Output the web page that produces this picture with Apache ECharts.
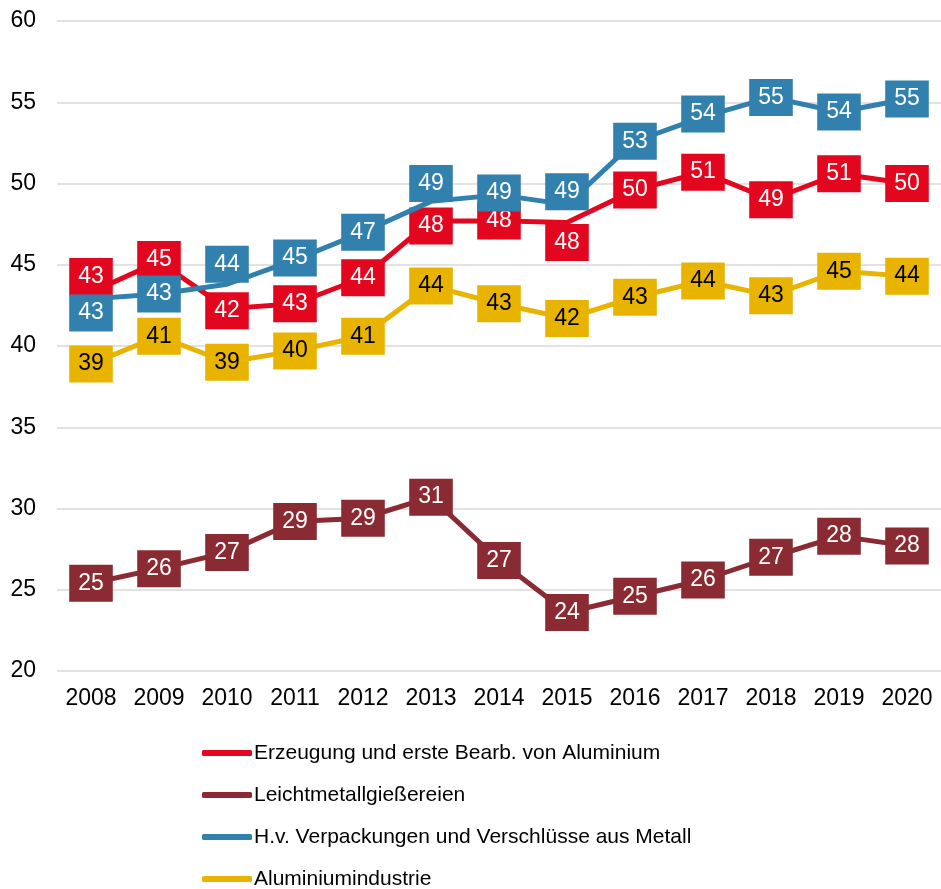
<!DOCTYPE html>
<html>
<head>
<meta charset="utf-8">
<script src="https://cdn.jsdelivr.net/npm/echarts@6/dist/echarts.min.js"></script>
<style>
  html, body { margin: 0; padding: 0; background: #fff; }
  #chart { width: 941px; height: 889px; }
</style>
</head>
<body>
<div id="chart"></div>
<script>
// categories
const years = ['2008', '2009', '2010', '2011', '2012', '2013', '2014', '2015', '2016', '2017', '2018', '2019', '2020']

// series values
const erzeugung = [43.3, 45.2, 42.3, 42.6, 44.2, 47.7, 47.7, 47.6, 49.6, 50.7, 49.0, 50.6, 50.0]
const leichtmetall = [25.4, 26.3, 27.3, 29.2, 29.4, 30.7, 26.8, 23.6, 24.6, 25.6, 27.0, 28.3, 27.7]
const verpackungen = [42.9, 43.2, 43.8, 45.3, 47.0, 48.9, 49.3, 48.7, 52.6, 54.1, 55.3, 54.4, 55.2]
const aluIndustrie = [38.9, 40.6, 39.0, 39.7, 40.6, 43.7, 42.6, 41.7, 43.0, 44.0, 43.1, 44.6, 44.3]

// vertical label shifts (px), like the hand-moved labels in the original
const erzeugungShift = [-16, -2, 2, 0, 0, 5, 0, 20, 0, 0, 0, 0, 0]
const verpackungenShift = [14, 0, -20, -2, 0, -18, -2, -13, 0, -3, 0, 0, 0]

const font = 'Liberation Sans, Arial, sans-serif'

function makeSeries(name, values, color, textColor, shifts, z) {
  return {
    name: name,
    type: 'line',
    z: z,
    data: values.map((v, i) => ({
      value: v,
      label: { offset: [0, shifts ? shifts[i] : 0] }
    })),
    symbol: 'circle',
    symbolSize: 1,
    itemStyle: { color: color },
    lineStyle: { color: color, width: 5 },
    label: {
      show: true,
      position: 'inside',
      formatter: p => Math.round(p.value),
      backgroundColor: color,
      color: textColor,
      fontFamily: font,
      fontSize: 23,
      lineHeight: 23,
      padding: [7, 9, 7, 9]
    },
    emphasis: { disabled: true },
    animation: false
  }
}

const chart = echarts.init(document.getElementById('chart'))
chart.setOption({
  grid: { left: 57, right: 0, top: 21, bottom: 218 },
  legend: {
    orient: 'vertical',
    left: 197,
    top: 737,
    height: 160,
    icon: 'roundRect',
    itemWidth: 50,
    itemHeight: 6,
    itemGap: 20,
    textStyle: { fontFamily: font, fontSize: 21, lineHeight: 22, color: '#000', padding: [0, 0, 0, -3] },
    data: ['Erzeugung und erste Bearb. von Aluminium', 'Leichtmetallgießereien',
      'H.v. Verpackungen und Verschlüsse aus Metall', 'Aluminiumindustrie']
  },
  xAxis: {
    type: 'category',
    data: years,
    boundaryGap: true,
    axisLine: { show: false },
    axisTick: { show: false },
    axisLabel: { fontFamily: font, fontSize: 23, color: '#000', margin: 16 }
  },
  yAxis: {
    type: 'value',
    min: 20,
    max: 60,
    interval: 5,
    axisLabel: { fontFamily: font, fontSize: 23, color: '#000', margin: 21 },
    splitLine: { lineStyle: { color: '#d9d9d9', width: 1.5 } }
  },
  series: [
    makeSeries('Erzeugung und erste Bearb. von Aluminium', erzeugung, '#e2061e', '#fff', erzeugungShift, 2),
    makeSeries('Leichtmetallgießereien', leichtmetall, '#8a2a32', '#fff', null, 2),
    makeSeries('H.v. Verpackungen und Verschlüsse aus Metall', verpackungen, '#3180ad', '#fff', verpackungenShift, 4),
    makeSeries('Aluminiumindustrie', aluIndustrie, '#e8b400', '#000', null, 3)
  ]
})
</script>
</body>
</html>
